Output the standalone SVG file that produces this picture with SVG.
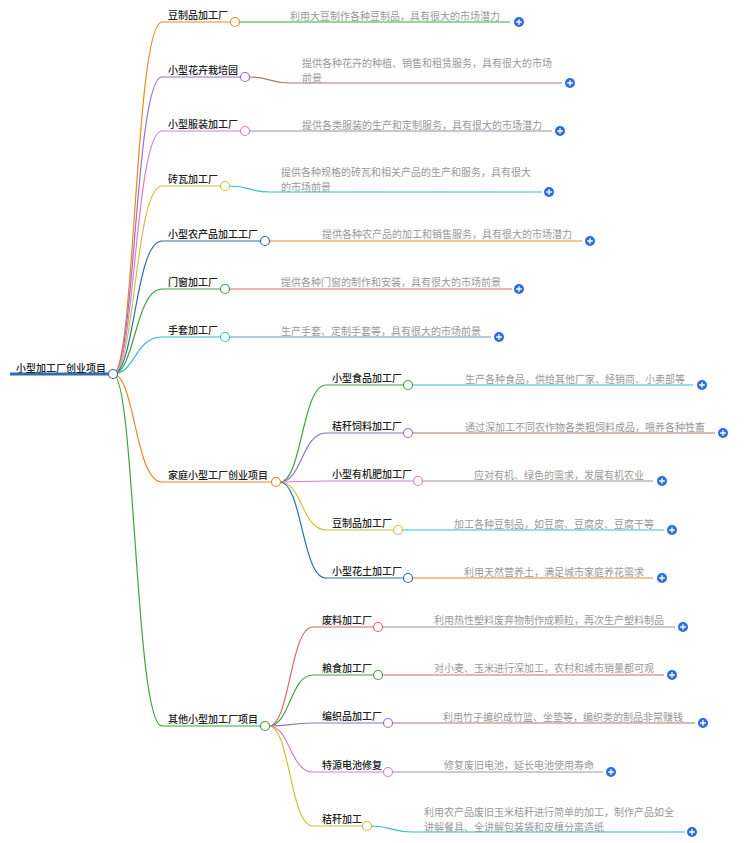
<svg xmlns="http://www.w3.org/2000/svg" width="755" height="843" viewBox="0 0 755 843">
<defs>
<style>
.lb{font-family:"Noto Sans CJK SC","Noto Sans",sans-serif;font-size:10px;fill:#222;font-weight:500}
.ds{font-family:"Noto Sans CJK SC","Noto Sans",sans-serif;font-size:10px;fill:#999}
.c{fill:none;stroke-width:1.2}
.n{fill:#fff;stroke-width:1.2}
.or{stroke:#f0861f}.pu{stroke:#9470c8}.pk{stroke:#e07bc4}.ye{stroke:#c9c43c}.bl{stroke:#2f6eb0}.gr{stroke:#3ea33e}.cy{stroke:#2fbfd0}
.br{stroke:#a87c72}.gy{stroke:#9a9a9a}.rd{stroke:#e06666}.lb2{stroke:#5b9bd5}.gp{stroke:#a08aa8}
</style>
<g id="plus"><circle r="5" fill="#2b6de4"/><path d="M-2.8 0H2.8M0 -2.8V2.8" stroke="#fff" stroke-width="1.4"/></g>
</defs>
<g id="connectors">
<path class="c bl" d="M10 374H110" style="stroke-width:3"/>
<path class="c or" d="M113 374C135 374 135 22 162 22H231"/>
<path class="c pu" d="M113 374C135 374 135 77 162 77H241"/>
<path class="c pk" d="M113 374C135 374 135 131 162 131H241"/>
<path class="c ye" d="M113 374C135 374 135 186 162 186H221"/>
<path class="c bl" d="M113 374C135 374 135 241 162 241H261"/>
<path class="c gr" d="M113 374C135 374 135 289 162 289H221"/>
<path class="c cy" d="M113 374C135 374 135 337 162 337H221"/>
<path class="c or" d="M113 374C135 374 135 482 162 482H272"/>
<path class="c gr" d="M113 374C135 374 135 726 162 726H261"/>
<path class="c gr" d="M239 22H510"/>
<path class="c br" d="M249 77C270 77 270 83 290 83H562"/>
<path class="c gp" d="M249 131H552"/>
<path class="c cy" d="M229 186C250 186 250 192 270 192H542"/>
<path class="c or" d="M269 241H582"/>
<path class="c rd" d="M229 289H512"/>
<path class="c lb2" d="M229 337H491"/>
<path class="c gr" d="M280 482C302 482 302 385 326 385H404"/>
<path class="c pu" d="M280 482C302 482 302 433 326 433H404"/>
<path class="c pk" d="M280 482C302 482 302 481 326 481H414"/>
<path class="c ye" d="M280 482C302 482 302 530 326 530H394"/>
<path class="c bl" d="M280 482C302 482 302 578 326 578H404"/>
<path class="c cy" d="M412 385H693"/>
<path class="c br" d="M412 433H715"/>
<path class="c gy" d="M422 481H653"/>
<path class="c cy" d="M402 530H664"/>
<path class="c or" d="M412 578H653"/>
<path class="c rd" d="M269 726C290 726 290 627 313 627H374"/>
<path class="c gr" d="M269 726C290 726 290 675 313 675H374"/>
<path class="c pu" d="M269 726C290 726 290 723 313 723H384"/>
<path class="c pk" d="M269 726C290 726 290 772 313 772H384"/>
<path class="c ye" d="M269 726C290 726 290 826 313 826H363"/>
<path class="c gp" d="M382 627H675"/>
<path class="c rd" d="M382 675H664"/>
<path class="c br" d="M392 723H695"/>
<path class="c gy" d="M392 772H603"/>
<path class="c cy" d="M371 826C392 826 392 832 412 832H685"/>
</g>
<g id="root"><text class="lb" x="16" y="372">小型加工厂创业项目</text><circle class="n bl" cx="113" cy="374" r="4.5"/></g>
<g id="n1"><text class="lb" x="168" y="19">豆制品加工厂</text><circle class="n or" cx="235" cy="22" r="4.5"/><text class="ds" x="290" y="20">利用大豆制作各种豆制品，具有很大的市场潜力</text><use href="#plus" x="519" y="22"/></g>
<g id="n2"><text class="lb" x="168" y="74">小型花卉栽培园</text><circle class="n pu" cx="245" cy="77" r="4.5"/><text class="ds" x="302" y="67">提供各种花卉的种植、销售和租赁服务，具有很大的市场</text><text class="ds" x="302" y="81.5">前景</text><use href="#plus" x="570" y="83"/></g>
<g id="n3"><text class="lb" x="168" y="128">小型服装加工厂</text><circle class="n pk" cx="245" cy="131" r="4.5"/><text class="ds" x="302" y="129">提供各类服装的生产和定制服务，具有很大的市场潜力</text><use href="#plus" x="560" y="131"/></g>
<g id="n4"><text class="lb" x="168" y="183">砖瓦加工厂</text><circle class="n ye" cx="225" cy="186" r="4.5"/><text class="ds" x="281" y="176">提供各种规格的砖瓦和相关产品的生产和服务，具有很大</text><text class="ds" x="281" y="190.5">的市场前景</text><use href="#plus" x="549" y="192"/></g>
<g id="n5"><text class="lb" x="168" y="238">小型农产品加工工厂</text><circle class="n bl" cx="265" cy="241" r="4.5"/><text class="ds" x="322" y="238">提供各种农产品的加工和销售服务，具有很大的市场潜力</text><use href="#plus" x="590" y="241"/></g>
<g id="n6"><text class="lb" x="168" y="286">门窗加工厂</text><circle class="n gr" cx="225" cy="289" r="4.5"/><text class="ds" x="281" y="286">提供各种门窗的制作和安装，具有很大的市场前景</text><use href="#plus" x="519" y="289"/></g>
<g id="n7"><text class="lb" x="168" y="334">手套加工厂</text><circle class="n cy" cx="225" cy="337" r="4.5"/><text class="ds" x="281" y="335">生产手套、定制手套等，具有很大的市场前景</text><use href="#plus" x="499" y="337"/></g>
<g id="n8"><text class="lb" x="168" y="479">家庭小型工厂创业项目</text><circle class="n or" cx="276" cy="482" r="4.5"/></g>
<g id="n8a"><text class="lb" x="332" y="382">小型食品加工厂</text><circle class="n gr" cx="408" cy="385" r="4.5"/><text class="ds" x="465" y="383">生产各种食品，供给其他厂家、经销商、小卖部等</text><use href="#plus" x="702" y="385"/></g>
<g id="n8b"><text class="lb" x="332" y="430">秸秆饲料加工厂</text><circle class="n pu" cx="408" cy="433" r="4.5"/><text class="ds" x="465" y="431">通过深加工不同农作物各类粗饲料成品，喂养各种牲畜</text><use href="#plus" x="723" y="433"/></g>
<g id="n8c"><text class="lb" x="332" y="478">小型有机肥加工厂</text><circle class="n pk" cx="418" cy="481" r="4.5"/><text class="ds" x="474" y="479">应对有机、绿色的需求，发展有机农业</text><use href="#plus" x="662" y="481"/></g>
<g id="n8d"><text class="lb" x="332" y="527">豆制品加工厂</text><circle class="n ye" cx="398" cy="530" r="4.5"/><text class="ds" x="454" y="528">加工各种豆制品，如豆腐、豆腐皮、豆腐干等</text><use href="#plus" x="672" y="530"/></g>
<g id="n8e"><text class="lb" x="332" y="575">小型花土加工厂</text><circle class="n bl" cx="408" cy="578" r="4.5"/><text class="ds" x="464" y="576">利用天然营养土，满足城市家庭养花需求</text><use href="#plus" x="662" y="578"/></g>
<g id="n9"><text class="lb" x="168" y="723">其他小型加工厂项目</text><circle class="n gr" cx="265" cy="726" r="4.5"/></g>
<g id="n9a"><text class="lb" x="322" y="624">废料加工厂</text><circle class="n rd" cx="378" cy="627" r="4.5"/><text class="ds" x="434" y="624">利用热性塑料废弃物制作成颗粒，再次生产塑料制品</text><use href="#plus" x="683" y="627"/></g>
<g id="n9b"><text class="lb" x="322" y="672">粮食加工厂</text><circle class="n gr" cx="378" cy="675" r="4.5"/><text class="ds" x="434" y="672">对小麦、玉米进行深加工，农村和城市销量都可观</text><use href="#plus" x="672" y="675"/></g>
<g id="n9c"><text class="lb" x="322" y="720">编织品加工厂</text><circle class="n pu" cx="388" cy="723" r="4.5"/><text class="ds" x="443" y="721">利用竹子编织成竹篮、坐垫等，编织类的制品非常赚钱</text><use href="#plus" x="703" y="723"/></g>
<g id="n9d"><text class="lb" x="322" y="769">特源电池修复</text><circle class="n pk" cx="388" cy="772" r="4.5"/><text class="ds" x="444" y="769">修复废旧电池，延长电池使用寿命</text><use href="#plus" x="611" y="772"/></g>
<g id="n9e"><text class="lb" x="322" y="823">秸秆加工</text><circle class="n ye" cx="367" cy="826" r="4.5"/><text class="ds" x="424" y="816">利用农产品废旧玉米秸秆进行简单的加工，制作产品如全</text><text class="ds" x="424" y="830.5">讲解餐具、全讲解包装袋和皮穰分离造纸</text><use href="#plus" x="692" y="832"/></g>
</svg>
